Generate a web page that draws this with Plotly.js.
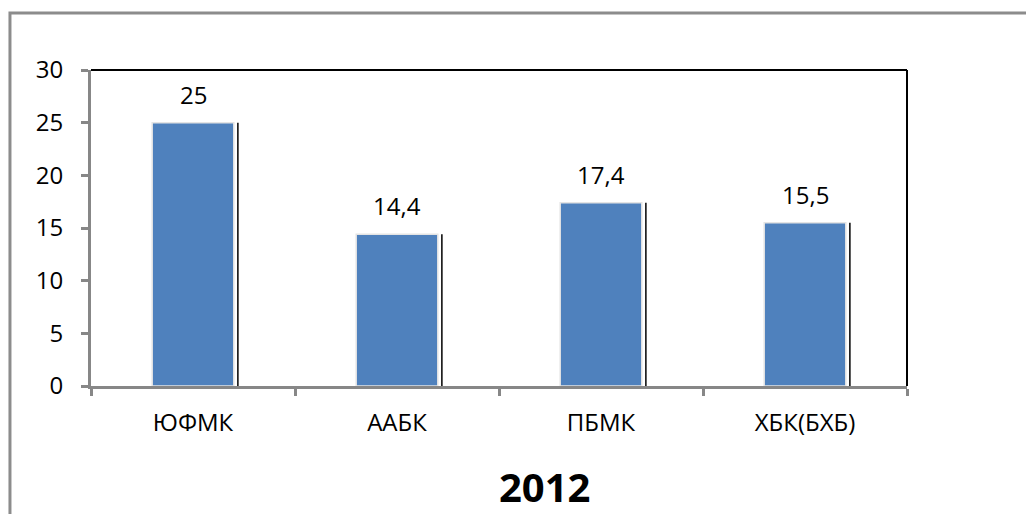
<!DOCTYPE html>
<html>
<head>
<meta charset="utf-8">
<script src="https://cdn.plot.ly/plotly-3.0.1.min.js"></script>
<style>html,body{margin:0;padding:0;background:#fff;}#chart{width:1026px;height:514px;}</style>
</head>
<body>
<div id="chart"></div>
<script>
const categories = ["ЮФМК", "ААБК", "ПБМК", "ХБК(БХБ)"];
const values = [25, 14.4, 17.4, 15.5];
const yTicks = [0, 5, 10, 15, 20, 25, 30];
const chartTitle = "2012";

const FONT = "Open Sans, Liberation Sans, sans-serif";
const barWidth = 0.4;

const trace = {
  type: "bar",
  x: categories,
  y: values,
  width: barWidth,
  marker: { color: "#4F81BD", line: { color: "#e4e4e4", width: 1.5 } },
  hoverinfo: "skip"
};

const shapes = [
  // outer chart frame
  { type: "rect", xref: "paper", yref: "paper", x0: -0.0993, x1: 2, y0: -2, y1: 1.1804,
    line: { color: "#8c8c8c", width: 3 }, fillcolor: "rgba(0,0,0,0)", layer: "below" },
  // top & right plot border
  { type: "line", xref: "paper", yref: "paper", x0: 0, x1: 1, y0: 1, y1: 1, line: { color: "#000", width: 2 } },
  { type: "line", xref: "paper", yref: "paper", x0: 1, x1: 1, y0: 0, y1: 1, line: { color: "#000", width: 2 } }
];
// bar shadows (right side dark line)
values.forEach((v, i) => {
  shapes.push({ type: "line", xref: "x", yref: "y", x0: i + barWidth / 2 + 0.02, x1: i + barWidth / 2 + 0.02,
    y0: 0, y1: v, line: { color: "#000", width: 1.5 } });
});

const annotations = values.map((v, i) => ({
  x: categories[i], y: v, xref: "x", yref: "y",
  text: String(v).replace(".", ","), showarrow: false,
  yanchor: "bottom", yshift: 10,
  font: { family: FONT, size: 24, color: "#000" }
}));
annotations.push({
  xref: "paper", yref: "paper", x: 0.556, y: -0.3165, yanchor: "middle", xanchor: "center",
  text: "<b>" + chartTitle + "</b>", showarrow: false,
  font: { family: FONT, size: 40, color: "#000" }
});

const layout = {
  width: 1026, height: 514,
  margin: { l: 91, r: 119, t: 70, b: 128, pad: 0 },
  paper_bgcolor: "#fff", plot_bgcolor: "#fff",
  showlegend: false,
  font: { family: FONT, size: 24, color: "#000" },
  xaxis: {
    type: "category",
    showline: true, linecolor: "#878787", linewidth: 3,
    ticks: "outside", tickson: "boundaries", ticklen: 7, tickwidth: 3, tickcolor: "#878787",
    ticklabelstandoff: 13,
    showgrid: false, zeroline: false,
    tickfont: { family: FONT, size: 24, color: "#000" }
  },
  yaxis: {
    range: [0, 30], tickvals: yTicks, ticktext: yTicks.map(String),
    showline: true, linecolor: "#878787", linewidth: 3,
    ticks: "outside", ticklen: 7, tickwidth: 3, tickcolor: "#878787",
    ticklabelstandoff: 13,
    showgrid: false, zeroline: false,
    tickfont: { family: FONT, size: 24, color: "#000" }
  },
  shapes: shapes,
  annotations: annotations
};

Plotly.newPlot("chart", [trace], layout, { staticPlot: true, displayModeBar: false });
</script>
</body>
</html>
